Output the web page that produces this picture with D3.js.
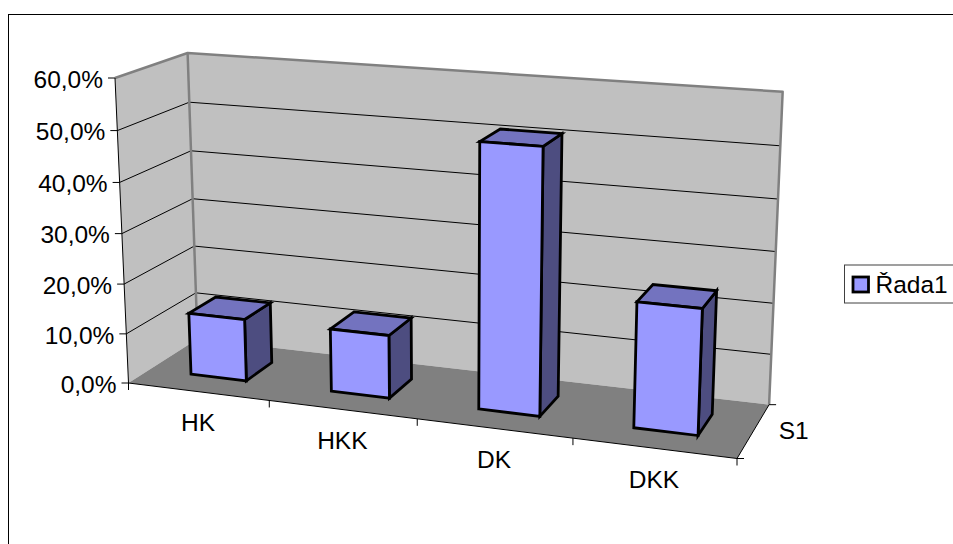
<!DOCTYPE html>
<html>
<head>
<meta charset="utf-8">
<style>
  html, body { margin: 0; padding: 0; background: #fff; overflow: hidden; }
  svg { display: block; }
  text { font-family: "Liberation Sans", Arial, sans-serif; fill: #000; }
</style>
<script src="https://cdn.jsdelivr.net/npm/d3@7/dist/d3.min.js"></script>
</head>
<body>
<svg id="chart" width="953" height="544"></svg>
<script>
// Chart data
const categories = ["HK", "HKK", "DK", "DKK"];
const values = [12.5, 12.5, 51.2, 24];
const valueTicks = [0, 10, 20, 30, 40, 50, 60];
const valueTickLabels = ["0,0%", "10,0%", "20,0%", "30,0%", "40,0%", "50,0%", "60,0%"];
const seriesName = "Řada1";
const depthLabel = "S1";

// Screen anchors of the 3D box and the perspective weight of each axis
const origin = [128.5, 383];
const rightEnd = [737, 458.5];
const topEnd = [115, 78];
const backEnd = [197.5, 339];
const weights = { u: 0.903, v: 0.96, w: 1.07 };
const fontSize = 24.5;

// Homogeneous projection of box coordinates (u across, v up, w into the depth)
function project(u, v, w) {
  const a = [rightEnd, topEnd, backEnd];
  const k = [u * weights.u, v * weights.v, w * weights.w];
  const rest = 1 - u - v - w;
  const d = rest + k[0] + k[1] + k[2];
  const x = rest * origin[0] + k[0] * a[0][0] + k[1] * a[1][0] + k[2] * a[2][0];
  const y = rest * origin[1] + k[0] * a[0][1] + k[1] * a[1][1] + k[2] * a[2][1];
  return [x / d, y / d];
}

const xBand = d3.scaleBand().domain(categories).range([0, 1]).paddingInner(0.6).paddingOuter(0.3);
const xStep = d3.scaleLinear().domain([0, categories.length]).range([0, 1]);
const vScale = d3.scaleLinear().domain([0, 60]).range([0, 1]);
const depth = d3.scaleBand().domain([depthLabel]).range([0, 1]).paddingInner(0.6).paddingOuter(0.3);

const svg = d3.select("#chart");
const poly = pts => d3.line()(pts) + "Z";
const seg = (g, a, b, color, width) => g.append("line")
  .attr("x1", a[0]).attr("y1", a[1]).attr("x2", b[0]).attr("y2", b[1])
  .attr("stroke", color).attr("stroke-width", width);

// Chart area frame runs past the right and bottom of the page
svg.append("rect").attr("x", 8.5).attr("y", 14.5).attr("width", 1000).attr("height", 1000)
  .attr("fill", "#fff").attr("stroke", "#000").attr("stroke-width", 1);

// Walls and floor
const walls = svg.append("g");
walls.append("path").attr("d", poly([project(0,0,0), project(0,1,0), project(0,1,1), project(0,0,1)])).attr("fill", "#c0c0c0");
walls.append("path").attr("d", poly([project(0,0,1), project(0,1,1), project(1,1,1), project(1,0,1)])).attr("fill", "#c0c0c0");
walls.append("path").attr("d", poly([project(0,0,0), project(1,0,0), project(1,0,1), project(0,0,1)])).attr("fill", "#808080");

// Gridlines across the side wall and the back wall
const grid = svg.append("g");
valueTicks.filter(t => t > 0 && t < 60).forEach(t => {
  const v = vScale(t);
  seg(grid, project(0, v, 0), project(0, v, 1), "#000", 1);
  seg(grid, project(0, v, 1), project(1, v, 1), "#000", 1);
});

// Grey edges of the walls
const edges = svg.append("g").attr("fill", "none").attr("stroke", "#808080").attr("stroke-width", 2.5).attr("stroke-linejoin", "round");
edges.append("path").attr("d", d3.line()([project(0,1,0), project(0,1,1), project(1,1,1), project(1,0,1)]));
edges.append("path").attr("d", d3.line()([project(0,1,1), project(0,0,1)]));

// Axes
const axes = svg.append("g");
seg(axes, project(0,0,0), project(0,1,0), "#000", 1);
seg(axes, project(0,0,0), project(1,0,0), "#000", 1);
seg(axes, project(1,0,0), project(1,0,1), "#000", 1);
valueTicks.forEach((t, i) => {
  const p = project(0, vScale(t), 0);
  seg(axes, [p[0] - 7, p[1]], p, "#000", 1);
  axes.append("text").attr("x", p[0] - 12).attr("y", p[1] + 1).attr("dy", "0.36em")
    .attr("text-anchor", "end").attr("font-size", fontSize).text(valueTickLabels[i]);
});
d3.range(categories.length + 1).forEach(i => {
  const p = project(xStep(i), 0, 0);
  seg(axes, p, [p[0], p[1] + 7], "#000", 1);
});
categories.forEach(c => {
  const p = project(xBand(c) + xBand.bandwidth() / 2, 0, 0);
  axes.append("text").attr("x", p[0]).attr("y", p[1] + 31).attr("dy", "0.36em")
    .attr("text-anchor", "middle").attr("font-size", fontSize).text(c);
});
[0, 1].forEach(w => {
  const p = project(1, 0, w);
  seg(axes, p, [p[0] + 7, p[1]], "#000", 1);
});
const sPos = project(1, 0, depth(depthLabel) + depth.bandwidth() / 2);
axes.append("text").attr("x", sPos[0] + 25).attr("y", sPos[1]).attr("dy", "0.36em")
  .attr("font-size", fontSize).text(depthLabel);

// Bars: side face, top face and front face
const w0 = depth(depthLabel), w1 = w0 + depth.bandwidth();
const bars = svg.append("g").selectAll("g").data(categories.map((c, i) => ({ c, value: values[i] }))).join("g")
  .attr("stroke", "#000").attr("stroke-width", 2.8).attr("stroke-linejoin", "miter");
bars.each(function (d) {
  const g = d3.select(this);
  const u0 = xBand(d.c), u1 = u0 + xBand.bandwidth(), v = vScale(d.value);
  g.append("path").attr("fill", "#4d4d80").attr("d", poly([project(u1,0,w0), project(u1,0,w1), project(u1,v,w1), project(u1,v,w0)]));
  g.append("path").attr("fill", "#7373bf").attr("d", poly([project(u0,v,w0), project(u1,v,w0), project(u1,v,w1), project(u0,v,w1)]));
  g.append("path").attr("fill", "#9999ff").attr("d", poly([project(u0,0,w0), project(u1,0,w0), project(u1,v,w0), project(u0,v,w0)]));
});

// Legend box, clipped by the right of the page
const legend = svg.append("g");
legend.append("rect").attr("x", 844.5).attr("y", 265).attr("width", 140).attr("height", 38)
  .attr("fill", "#fff").attr("stroke", "#404040").attr("stroke-width", 1);
legend.append("rect").attr("x", 853).attr("y", 277).attr("width", 15.5).attr("height", 15)
  .attr("fill", "#9999ff").attr("stroke", "#000").attr("stroke-width", 2.8);
legend.append("text").attr("x", 875.5).attr("y", 284.5).attr("dy", "0.36em")
  .attr("font-size", fontSize).text(seriesName);
</script>
</body>
</html>
